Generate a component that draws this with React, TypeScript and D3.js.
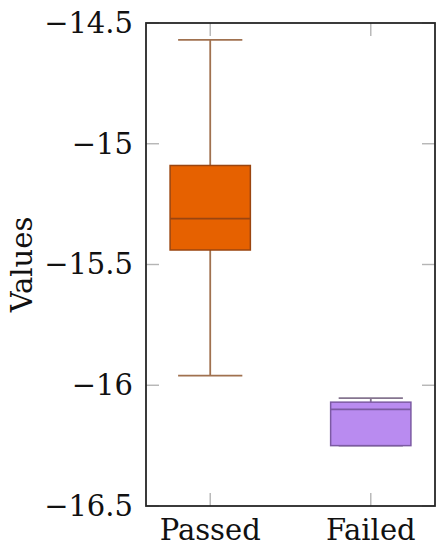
import React, { useEffect, useRef } from 'react'
import * as d3 from 'd3'

const categories = ['Passed', 'Failed']
const lowerWhisker = [-15.96, -16.25]
const lowerQuartile = [-15.44, -16.25]
const median = [-15.31, -16.1]
const upperQuartile = [-15.09, -16.07]
const upperWhisker = [-14.57, -16.053]
const yTicks = [-16.5, -16, -15.5, -15, -14.5]

const fills = ['#e66100', '#b98bf0']
const strokes = ['#9a4510', '#7c5aa3']
const whiskerColors = ['#a0714f', '#85748f']

const W = 443
const H = 550
const FONT = "'DejaVu Serif', serif"

const App = () => {
  const svgRef = useRef<SVGSVGElement | null>(null)

  useEffect(() => {
    if (!svgRef.current) return
    const svg = d3.select(svgRef.current)
    svg.selectAll('*').remove()

    const left = 146, right = 435, top = 23, bottom = 506
    const x = d3.scaleLinear().domain([0.6, 2.4]).range([left, right])
    const y = d3.scaleLinear().domain([-16.5, -14.5]).range([bottom, top])
    const tickLen = 13
    const fmt = (d: number) => String(d).replace('-', '\u2212')

    // tick marks, inward on all four sides
    const tg = svg.append('g').attr('stroke', '#b5b5b5').attr('stroke-width', 1.4)
    yTicks.forEach(t => {
      tg.append('line').attr('x1', left).attr('x2', left + tickLen).attr('y1', y(t)).attr('y2', y(t))
      tg.append('line').attr('x1', right).attr('x2', right - tickLen).attr('y1', y(t)).attr('y2', y(t))
    })
    categories.forEach((c, i) => {
      tg.append('line').attr('x1', x(i + 1)).attr('x2', x(i + 1)).attr('y1', bottom).attr('y2', bottom - tickLen)
      tg.append('line').attr('x1', x(i + 1)).attr('x2', x(i + 1)).attr('y1', top).attr('y2', top + tickLen)
    })

    // boxes
    const boxW = 0.5, capW = 0.4
    categories.forEach((c, i) => {
      const cx = i + 1
      const g = svg.append('g')
      g.append('line')
        .attr('x1', x(cx)).attr('x2', x(cx))
        .attr('y1', y(upperWhisker[i])).attr('y2', y(upperQuartile[i]))
        .attr('stroke', whiskerColors[i]).attr('stroke-width', 1.8)
      g.append('line')
        .attr('x1', x(cx)).attr('x2', x(cx))
        .attr('y1', y(lowerQuartile[i])).attr('y2', y(lowerWhisker[i]))
        .attr('stroke', whiskerColors[i]).attr('stroke-width', 1.8)
      ;[upperWhisker[i], lowerWhisker[i]].forEach(v => {
        g.append('line')
          .attr('x1', x(cx - capW / 2)).attr('x2', x(cx + capW / 2))
          .attr('y1', y(v)).attr('y2', y(v))
          .attr('stroke', whiskerColors[i]).attr('stroke-width', 1.8)
      })
      g.append('rect')
        .attr('x', x(cx - boxW / 2))
        .attr('y', y(upperQuartile[i]))
        .attr('width', x(cx + boxW / 2) - x(cx - boxW / 2))
        .attr('height', y(lowerQuartile[i]) - y(upperQuartile[i]))
        .attr('fill', fills[i])
        .attr('stroke', strokes[i]).attr('stroke-width', 1.5)
      g.append('line')
        .attr('x1', x(cx - boxW / 2)).attr('x2', x(cx + boxW / 2))
        .attr('y1', y(median[i])).attr('y2', y(median[i]))
        .attr('stroke', strokes[i]).attr('stroke-width', 1.8)
    })

    // frame
    svg.append('rect')
      .attr('x', left).attr('y', top)
      .attr('width', right - left).attr('height', bottom - top)
      .attr('fill', 'none').attr('stroke', '#262626').attr('stroke-width', 1.8)

    // labels
    svg.append('g').selectAll('text')
      .data(yTicks)
      .enter().append('text')
        .attr('x', left - 13)
        .attr('y', d => y(d))
        .attr('dy', '0.34em')
        .attr('text-anchor', 'end')
        .style('font-family', FONT)
        .attr('font-size', 29)
        .attr('fill', '#111')
        .text(d => fmt(d))

    svg.append('g').selectAll('text')
      .data(categories)
      .enter().append('text')
        .attr('x', (d, i) => x(i + 1))
        .attr('y', 540)
        .attr('text-anchor', 'middle')
        .style('font-family', FONT)
        .attr('font-size', 29)
        .attr('fill', '#111')
        .text(d => d)

    svg.append('text')
      .attr('transform', `translate(32, ${(top + bottom) / 2}) rotate(-90)`)
      .attr('text-anchor', 'middle')
      .style('font-family', FONT)
      .attr('font-size', 29)
      .attr('fill', '#111')
      .text('Values')
  }, [])

  return (
    <svg ref={svgRef} width={W} height={H}
      style={{ position: 'absolute', left: 0, top: 0, background: '#fff' }} />
  )
}

export default App
